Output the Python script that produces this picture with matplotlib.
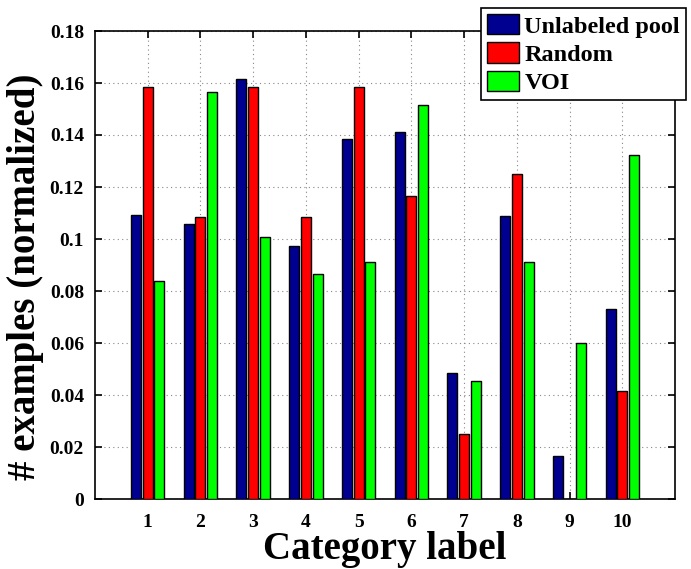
import matplotlib
matplotlib.use("Agg")
import matplotlib.pyplot as plt
import numpy as np

categories = [1, 2, 3, 4, 5, 6, 7, 8, 9, 10]
unlabeled_pool = [0.1092, 0.1057, 0.1617, 0.0973, 0.1385, 0.1410, 0.0483, 0.1090, 0.0164, 0.0732]
random_sel = [0.1583, 0.1083, 0.1583, 0.1083, 0.1583, 0.1165, 0.0249, 0.1250, 0.0, 0.0415]
voi = [0.0840, 0.1564, 0.1009, 0.0864, 0.0913, 0.1514, 0.0455, 0.0913, 0.0600, 0.1322]
series_names = ["Unlabeled pool", "Random", "VOI"]
yticks = [0, 0.02, 0.04, 0.06, 0.08, 0.1, 0.12, 0.14, 0.16, 0.18]
ytick_labels = ["0", "0.02", "0.04", "0.06", "0.08", "0.1", "0.12", "0.14", "0.16", "0.18"]

colors = ["#000090", "#FF0000", "#00FF00"]
font = "Liberation Serif"

fig = plt.figure(figsize=(6.91, 5.69), dpi=100)
ax = fig.add_axes([95/691, 1-499/569, 580/691, 468/569])

x = np.array(categories, dtype=float)
w = 0.19
offs = [-0.222, 0.0, 0.222]
handles = []
for vals, off, c, name in zip([unlabeled_pool, random_sel, voi], offs, colors, series_names):
    h = ax.bar(x + off, vals, width=w, color=c, edgecolor="black", linewidth=1.0,
               label=name, zorder=3)
    handles.append(h)

ax.set_xlim(0, 11)
ax.set_ylim(0, 0.18)
ax.set_xticks(categories)
ax.set_xticklabels([str(c) for c in categories], fontfamily=font, fontweight="bold", fontsize=14)
ax.set_yticks(yticks)
ax.set_yticklabels(ytick_labels, fontfamily=font, fontweight="bold", fontsize=14)
ax.tick_params(direction="in", top=True, right=True, length=5, width=1.2)
ax.tick_params(axis="x", pad=11)
ax.tick_params(axis="y", pad=8)
ax.grid(True, linestyle=(0, (1, 3)), color="#888888", linewidth=0.8, zorder=0)
for s in ax.spines.values():
    s.set_linewidth(1.2)

ax.set_xlabel("Category label", fontfamily=font, fontweight="bold", fontsize=28, labelpad=0)
ax.set_ylabel("# examples (normalized)", fontfamily=font, fontweight="bold", fontsize=28)
ax.yaxis.set_label_coords(-0.088, 0.474)

leg = fig.legend(handles=handles, labels=series_names, loc="upper left",
                 bbox_to_anchor=(481/691, 1-8/569), bbox_transform=fig.transFigure,
                 prop={"family": font, "weight": "bold", "size": 17.5},
                 frameon=True, fancybox=False, edgecolor="black", framealpha=1,
                 handlelength=1.33, handleheight=0.9, handletextpad=0.2,
                 borderpad=0.25, labelspacing=0.2, borderaxespad=0)
leg.get_frame().set_linewidth(1.2)

fig.savefig("out.png", dpi=100)
